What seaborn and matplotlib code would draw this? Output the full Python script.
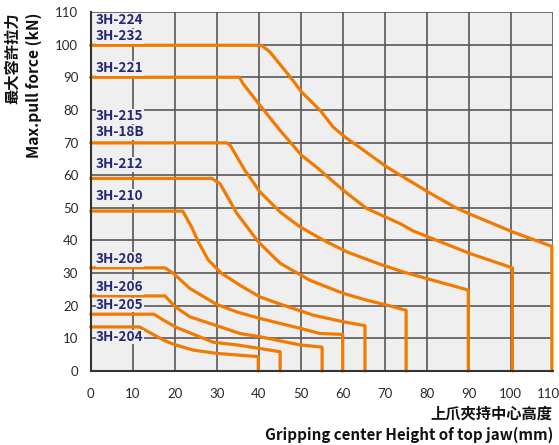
import numpy as np
import pandas as pd
import matplotlib
matplotlib.use("Agg")
import matplotlib.pyplot as plt
import seaborn as sns

# ---- data ----
x_100 = [0, 40.7, 42.7, 47.5, 50.2, 54.6, 57.7, 60.5, 63.3, 70.5, 80.8, 87.1, 91.0, 100.5, 109.8, 109.8]
y_100 = [99.8, 99.8, 97.7, 90.1, 85.5, 79.9, 74.8, 71.7, 69.2, 62.5, 54.5, 49.9, 47.7, 42.6, 38.2, 0]

x_90 = [0, 35.4, 36.3, 40.3, 45.1, 50.2, 54.1, 60.1, 65.7, 73.6, 76.8, 90.3, 100.4, 100.4]
y_90 = [90, 90, 88.0, 81.4, 73.7, 66.1, 62.1, 55.4, 49.8, 45.2, 42.9, 36.0, 31.6, 0]

x_70 = [0, 32.4, 33.2, 36.7, 40.3, 45.1, 49.8, 55.4, 61.0, 68.9, 74.8, 89.9, 89.9]
y_70 = [69.9, 69.9, 69.2, 61.5, 54.9, 48.7, 44.2, 40.1, 36.5, 32.7, 30.2, 24.8, 0]

x_59 = [0, 28.8, 30.8, 34.8, 39.9, 45.1, 52.2, 60.1, 65.7, 70.5, 75.1, 75.1]
y_59 = [59.0, 59.0, 57.4, 48.3, 39.6, 33.0, 27.8, 23.8, 21.7, 20.2, 18.6, 0]

x_49 = [0, 21.9, 24.0, 25.6, 28.0, 31.2, 35.5, 40.3, 45.1, 53.0, 60.1, 65.3, 65.3]
y_49 = [49.0, 49.0, 44.2, 39.6, 34.0, 29.9, 26.3, 22.7, 20.5, 17.1, 15.1, 13.9, 0]

x_32 = [0, 17.7, 19.7, 23.6, 30.0, 34.8, 40.3, 49.8, 54.6, 60.0, 60.0]
y_32 = [31.6, 31.6, 29.9, 25.3, 20.4, 18.1, 16.1, 13.1, 11.5, 11.2, 0]

x_23 = [0, 17.7, 20.1, 23.6, 30.0, 35.5, 40.3, 49.8, 55.1, 55.1]
y_23 = [23.0, 23.0, 19.7, 16.6, 13.9, 11.5, 10.5, 8.0, 7.3, 0]

x_17 = [0, 15.1, 17.3, 20.5, 29.2, 34.8, 40.3, 45.1, 45.1]
y_17 = [17.4, 17.4, 15.6, 13.3, 8.8, 8.0, 6.9, 5.9, 0]

x_13 = [0, 11.6, 17.3, 19.7, 24.4, 30.0, 39.9, 39.9]
y_13 = [13.5, 13.5, 9.5, 8.2, 6.4, 5.4, 4.4, 0]

series_names = ["100", "90", "70", "59", "49", "32", "23", "17", "13"]
series_x = [x_100, x_90, x_70, x_59, x_49, x_32, x_23, x_17, x_13]
series_y = [y_100, y_90, y_70, y_59, y_49, y_32, y_23, y_17, y_13]

label_texts = ["3H-224", "3H-232", "3H-221", "3H-215", "3H-18B", "3H-212",
               "3H-210", "3H-208", "3H-206", "3H-205", "3H-204"]
label_y = [107.4, 102.5, 92.7, 78.0, 73.1, 63.3, 53.5, 34.2, 25.7, 20.2, 10.4]

x_ticks = [0, 10, 20, 30, 40, 50, 60, 70, 80, 90, 100, 110]
x_tick_labels = ["0", "10", "20", "30", "40", "50", "60", "70", "80", "90", "100", "110"]
y_ticks = [0, 10, 20, 30, 40, 50, 60, 70, 80, 90, 100, 110]

ylabel_cn = "最大容許拉力"
ylabel_en = "Max.pull force (kN)"
xlabel_cn = "上爪夾持中心高度"
xlabel_en = "Gripping center Height of top jaw(mm)"

# ---- build table ----
rows = []
for name, xs, ys in zip(series_names, series_x, series_y):
    for i, (xv, yv) in enumerate(zip(xs, ys)):
        rows.append({"series": name, "order": i, "x": xv, "y": yv})
df = pd.DataFrame(rows)

sns.set_theme(style="white")
bold_fam = ['Noto Sans CJK TC', 'DejaVu Sans']
tick_fam = ['Lato', 'DejaVu Sans']
plt.rcParams['font.family'] = bold_fam

fig = plt.figure(figsize=(5.59, 4.45), dpi=100)
ax = fig.add_axes([90.7 / 559, 1 - 371 / 445, (552.7 - 90.7) / 559, (371 - 12) / 445])
ax.set_facecolor("#efefef")

ax.set_xlim(0, 110)
ax.set_ylim(0, 110)
ax.set_xticks(x_ticks)
ax.set_xticklabels(x_tick_labels[:-1] + [""])
ax.set_yticks(y_ticks)
ax.grid(True, color="#585858", linewidth=1.2)
ax.set_axisbelow(True)

orange = "#f27a00"
sns.lineplot(data=df, x="x", y="y", units="series", estimator=None, sort=False,
             color=orange, linewidth=2.3, ax=ax, legend=False, clip_on=False)

for t, yv in zip(label_texts, label_y):
    ax.text(1.3, yv, t, color="#252878", fontsize=9.8, fontweight="bold",
            ha="left", va="center", family=bold_fam,
            bbox=dict(facecolor="#efefef", edgecolor="none", pad=0.3), zorder=5)

for s in ["top", "right"]:
    ax.spines[s].set_visible(False)
for s in ["left", "bottom"]:
    ax.spines[s].set_color("#333333")
    ax.spines[s].set_linewidth(1.5)

ax.set_xlabel("")
ax.set_ylabel("")
ax.tick_params(axis="both", length=0, labelsize=9.5, labelcolor="#2a2a2a")
ax.tick_params(axis="x", pad=12)
ax.tick_params(axis="y", pad=9)
for lab in ax.get_xticklabels() + ax.get_yticklabels():
    lab.set_family(tick_fam)
    lab.set_fontweight("normal")

# last x tick label nudged left so it stays inside the canvas
ax.annotate(x_tick_labels[-1], xy=(x_ticks[-1], 0), xycoords="data",
            xytext=(-3, -12), textcoords="offset points", ha="center", va="top",
            fontsize=9.5, color="#2a2a2a", family=tick_fam, annotation_clip=False)

fig.text(12 / 559, 1 - 12 / 445, ylabel_cn, rotation=90, ha="center", va="top",
         fontsize=11, fontweight="bold", family=bold_fam, color="#111111")
fig.text(34 / 559, 1 - 12 / 445, ylabel_en, rotation=90, ha="center", va="top",
         fontsize=11.2, fontweight="bold", family=bold_fam, color="#111111")
fig.text(552 / 559, 1 - 414 / 445, xlabel_cn, ha="right", va="center",
         fontsize=11, fontweight="bold", family=bold_fam, color="#111111")
fig.text(553 / 559, 1 - 435 / 445, xlabel_en, ha="right", va="center",
         fontsize=10.9, fontweight="bold", family=bold_fam, color="#111111")

fig.savefig("out.png", dpi=100)
